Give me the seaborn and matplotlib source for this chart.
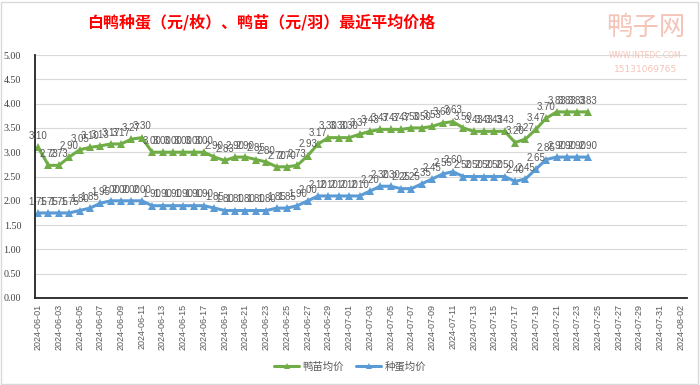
import matplotlib
matplotlib.use("Agg")
import matplotlib.pyplot as plt
import matplotlib.dates as mdates
from matplotlib.lines import Line2D
from matplotlib.patches import Rectangle
import seaborn as sns
import pandas as pd
import numpy as np

# ---- data ----
start_date = "2024-06-01"
n_days = 54
duckling_price = [3.10, 2.73, 2.73, 2.90, 3.05, 3.10, 3.13, 3.17, 3.17, 3.27,
                  3.30, 3.00, 3.00, 3.00, 3.00, 3.00, 3.00, 2.90, 2.83, 2.90,
                  2.90, 2.85, 2.80, 2.70, 2.70, 2.73, 2.93, 3.17, 3.30, 3.30,
                  3.30, 3.37, 3.43, 3.47, 3.47, 3.47, 3.50, 3.50, 3.53, 3.60,
                  3.63, 3.50, 3.43, 3.43, 3.43, 3.43, 3.20, 3.27, 3.47, 3.70,
                  3.83, 3.83, 3.83, 3.83]
egg_price = [1.75, 1.75, 1.75, 1.75, 1.80, 1.85, 1.95, 2.00, 2.00, 2.00,
             2.00, 1.90, 1.90, 1.90, 1.90, 1.90, 1.90, 1.85, 1.80, 1.80,
             1.80, 1.80, 1.80, 1.85, 1.85, 1.90, 2.00, 2.10, 2.10, 2.10,
             2.10, 2.10, 2.20, 2.30, 2.30, 2.25, 2.25, 2.35, 2.45, 2.55,
             2.60, 2.50, 2.50, 2.50, 2.50, 2.50, 2.40, 2.45, 2.65, 2.85,
             2.90, 2.90, 2.90, 2.90]
series_names = ["鸭苗均价", "种蛋均价"]
title = "白鸭种蛋（元/枚）、鸭苗（元/羽）最近平均价格"
axis_end = "2024-08-02"

dates = pd.date_range(start_date, periods=n_days, freq="D")
df = pd.DataFrame({
    "date": np.concatenate([dates, dates]),
    "price": duckling_price + egg_price,
    "series": [series_names[0]] * n_days + [series_names[1]] * n_days,
})

colors = {series_names[0]: "#70AD47", series_names[1]: "#5B9BD5"}

sns.set_theme(style="white")
plt.rcParams["font.family"] = ["Noto Sans CJK SC", "DejaVu Sans"]

fig = plt.figure(figsize=(7.0, 3.85), dpi=100)
ax = fig.add_axes([0.05, 0.226, 0.931, 0.631])

sns.lineplot(data=df, x="date", y="price", hue="series", palette=colors,
             marker="^", markersize=5.5, markeredgewidth=0, linewidth=2.2,
             ax=ax, legend=False)

# data labels
for name, vals in zip(series_names, [duckling_price, egg_price]):
    for d, v in zip(dates, vals):
        ax.annotate(f"{v:.2f}", (mdates.date2num(d), v), xytext=(0, 4.5),
                    textcoords="offset points", ha="center", va="bottom",
                    fontsize=7, color="#595959", family="Liberation Sans")

# axes
x0 = mdates.date2num(pd.Timestamp(start_date)) - 0.3
x1 = mdates.date2num(pd.Timestamp(axis_end)) + 0.55
ax.set_xlim(x0, x1)
ax.set_ylim(0, 5.0)
ax.set_yticks(np.arange(0, 5.01, 0.5))
ax.yaxis.set_major_formatter(matplotlib.ticker.FormatStrFormatter("%.2f"))
ticks = pd.date_range(start_date, axis_end, freq="2D")
ax.set_xticks(mdates.date2num(ticks))
ax.set_xticklabels([t.strftime("%Y-%m-%d") for t in ticks], rotation=90,
                   fontsize=6.5, color="#595959", family="Liberation Sans")
for lab in ax.get_yticklabels():
    lab.set_family("Liberation Serif")
    lab.set_fontsize(7.2)
    lab.set_color("#404040")
ax.tick_params(axis="y", length=0, pad=10)
ax.tick_params(axis="x", length=0, pad=4)
ax.set_xlabel("")
ax.set_ylabel("")
ax.grid(axis="y", color="#D9D9D9", linewidth=0.8)
ax.grid(axis="x", visible=False)
for s in ["top", "right"]:
    ax.spines[s].set_visible(False)
for s in ["left", "bottom"]:
    ax.spines[s].set_color("#222222")
    ax.spines[s].set_linewidth(1.3)

# legend
handles = [Line2D([0], [0], color=colors[n], marker="^", markersize=4,
                  markeredgewidth=0, linewidth=2.2) for n in series_names]
fig.legend(handles, series_names, loc="center", bbox_to_anchor=(0.5, 0.047),
           ncol=2, frameon=False, fontsize=7.5, handlelength=2.4,
           handletextpad=0.3, columnspacing=1.2, labelcolor="#595959")

# title
fig.text(0.373, 0.943, title, ha="center", va="center", color="#FF0000",
         fontsize=11.5, fontweight="bold")

# watermark
fig.text(0.922, 0.93, "鸭子网", ha="center", va="center", color="#F5C4B8",
         fontsize=19)
fig.text(0.922, 0.856, "WWW.INTEDC.COM", ha="center", va="center",
         color="#F5C4B8", fontsize=5.5, family="DejaVu Sans")
fig.text(0.922, 0.82, "15131069765", ha="center", va="center",
         color="#F5C4B8", fontsize=6.5, family="DejaVu Sans")

# chart border
fig.patches.append(Rectangle((0.002, 0.003), 0.995, 0.993,
                             transform=fig.transFigure, fill=False,
                             edgecolor="#D9D9D9", linewidth=1.0))

fig.savefig("out.png", dpi=100)
